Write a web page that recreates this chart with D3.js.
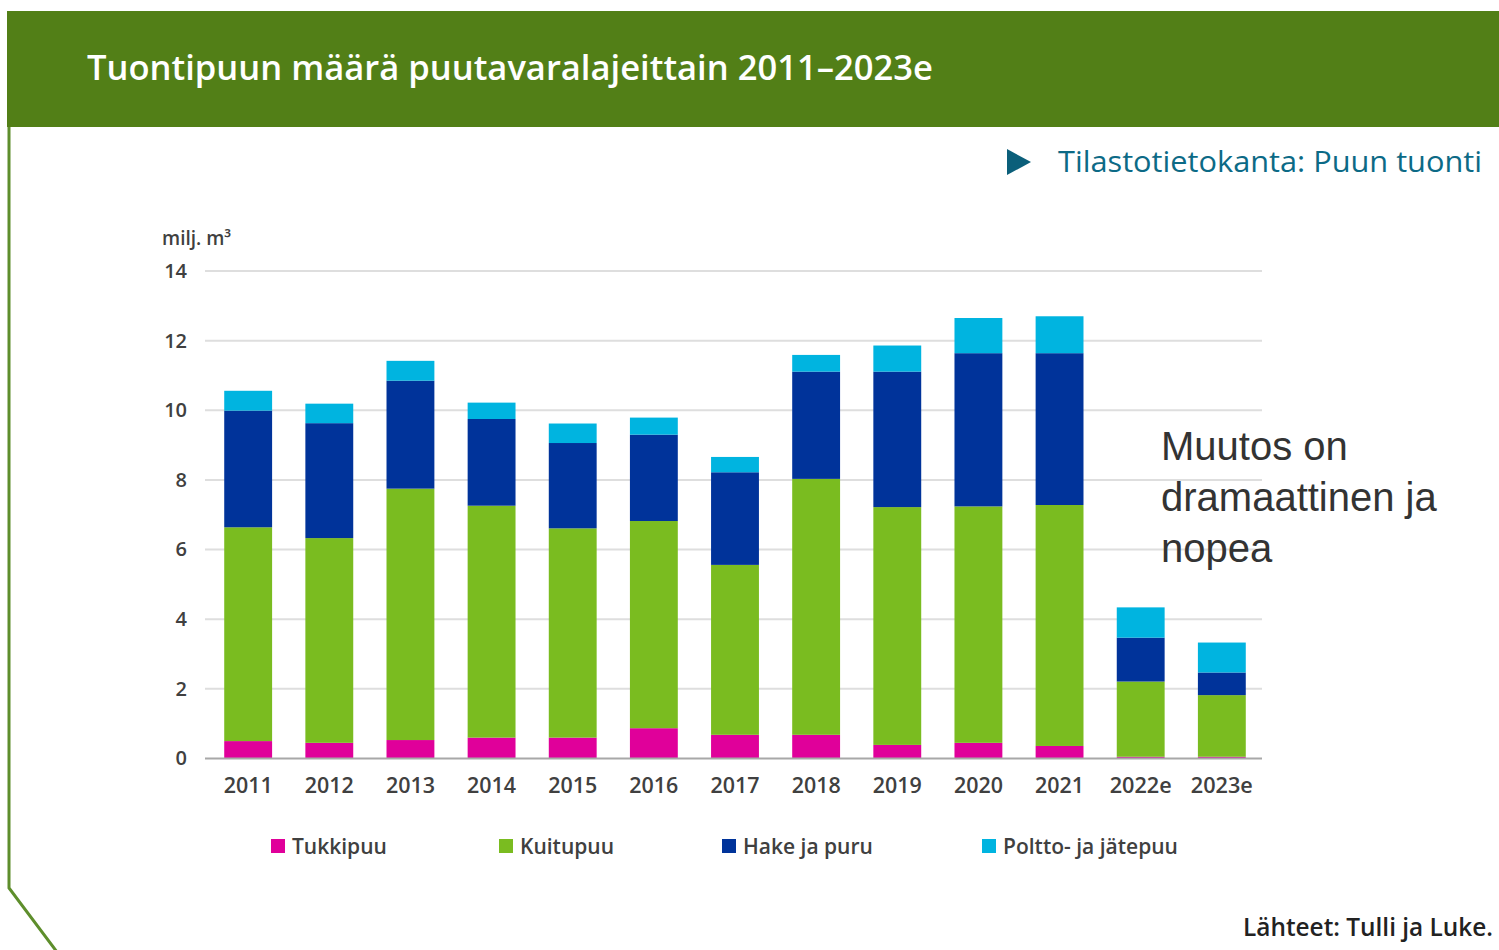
<!DOCTYPE html>
<html>
<head lang="fi">
    <meta charset="UTF-8">
    <title>Tuontipuu</title>
    <script type="text/javascript" src="https://d3js.org/d3.v7.min.js"></script>
    <style>
        body { margin: 0; background: #fff; }
        text { font-family: "Open Sans", "DejaVu Sans", sans-serif; }
    </style>
</head>
<body>
<div id="chart"></div>
<script>

    // data, milj. m3
    var years    = ["2011","2012","2013","2014","2015","2016","2017","2018","2019","2020","2021","2022e","2023e"];
    var tukkipuu = [0.50, 0.45, 0.53, 0.60, 0.60, 0.87, 0.68, 0.68, 0.39, 0.45, 0.36, 0.05, 0.05];
    var kuitupuu = [6.14, 5.88, 7.22, 6.66, 6.01, 5.95, 4.88, 7.35, 6.83, 6.79, 6.92, 2.16, 1.77];
    var hake     = [3.35, 3.30, 3.10, 2.49, 2.45, 2.48, 2.66, 3.08, 3.89, 4.40, 4.36, 1.26, 0.65];
    var poltto   = [0.57, 0.56, 0.57, 0.47, 0.56, 0.49, 0.44, 0.48, 0.75, 1.01, 1.06, 0.87, 0.86];
    var seriesNames = ["Tukkipuu", "Kuitupuu", "Hake ja puru", "Poltto- ja jätepuu"];
    var yTicks   = [0, 2, 4, 6, 8, 10, 12, 14];

    var colors = ["#e0009a", "#7abc20", "#00339a", "#00b4e0"];

    var W = 1499, H = 950;

    var svg = d3.select("#chart").append("svg")
            .attr("width", W)
            .attr("height", H);

    // header band
    svg.append("rect")
            .attr("x", 7).attr("y", 11)
            .attr("width", W - 7).attr("height", 116)
            .style("fill", "#527f17");

    svg.append("text")
            .attr("x", 87).attr("y", 80)
            .attr("textLength", 846)
            .attr("lengthAdjust", "spacingAndGlyphs")
            .style("font-size", "35px")
            .style("font-weight", "600")
            .style("fill", "#ffffff")
            .text("Tuontipuun määrä puutavaralajeittain 2011–2023e");

    // left border with cut corner
    svg.append("path")
            .attr("d", "M9,127 L9,888 L57,952")
            .style("fill", "none")
            .style("stroke", "#5e8e2c")
            .style("stroke-width", 3);

    // link text
    svg.append("path")
            .attr("d", "M1007,149 L1031,162 L1007,175 Z")
            .style("fill", "#0b5f7a");
    svg.append("text")
            .attr("x", 1058).attr("y", 172)
            .attr("textLength", 424)
            .attr("lengthAdjust", "spacingAndGlyphs")
            .style("font-size", "30px")
            .style("fill", "#0c6a86")
            .text("Tilastotietokanta: Puun tuonti");

    // scales
    var x = d3.scaleBand()
            .domain(years)
            .range([208, 1262])
            .paddingInner(0.41)
            .paddingOuter(0.2);

    var y = d3.scaleLinear()
            .domain([0, 14])
            .range([758.5, 271]);

    // gridlines
    svg.append("g").selectAll("line")
            .data(yTicks.filter(function (d) { return d > 0; }))
            .enter().append("line")
            .attr("x1", 205).attr("x2", 1262)
            .attr("y1", function (d) { return y(d); })
            .attr("y2", function (d) { return y(d); })
            .style("stroke", "#dedede")
            .style("stroke-width", 2);

    // y axis labels
    var yAxis = svg.append("g")
            .attr("transform", "translate(187,0)")
            .call(d3.axisLeft(y).tickValues(yTicks).tickSize(0).tickPadding(0));
    yAxis.select(".domain").remove();
    yAxis.selectAll("text")
            .style("font-family", "\"Open Sans\", sans-serif")
            .style("font-size", "20px")
            .style("font-weight", "600")
            .style("fill", "#404040");

    svg.append("text")
            .attr("x", 162).attr("y", 245)
            .style("font-size", "19px")
            .style("font-weight", "600")
            .style("fill", "#404040")
            .text("milj. m³");

    // stacked bars
    var table = years.map(function (yr, i) {
        return { year: yr, s0: tukkipuu[i], s1: kuitupuu[i], s2: hake[i], s3: poltto[i] };
    });
    var stack = d3.stack().keys(["s0", "s1", "s2", "s3"])(table);

    svg.append("g").selectAll("g")
            .data(stack).enter().append("g")
            .style("fill", function (d, i) { return colors[i]; })
            .selectAll("rect")
            .data(function (d) { return d; }).enter().append("rect")
            .attr("x", function (d) { return x(d.data.year); })
            .attr("y", function (d) { return y(d[1]); })
            .attr("width", x.bandwidth())
            .attr("height", function (d) { return y(d[0]) - y(d[1]); });

    // baseline
    svg.append("line")
            .attr("x1", 205).attr("x2", 1262)
            .attr("y1", y(0)).attr("y2", y(0))
            .style("stroke", "#a8a8a8")
            .style("stroke-width", 2);

    // x axis labels
    var xAxis = svg.append("g")
            .attr("transform", "translate(0," + y(0) + ")")
            .call(d3.axisBottom(x).tickSize(0).tickPadding(20));
    xAxis.select(".domain").remove();
    xAxis.selectAll("text")
            .style("font-family", "\"Open Sans\", sans-serif")
            .style("font-size", "21px")
            .style("font-weight", "600")
            .style("fill", "#404040")
            .attr("textLength", function (d) { return d.length > 4 ? 62 : 49; })
            .attr("lengthAdjust", "spacingAndGlyphs");

    // legend
    var legendX = [271, 499, 722, 982];
    var legend = svg.append("g").selectAll("g")
            .data(seriesNames).enter().append("g")
            .attr("transform", function (d, i) { return "translate(" + legendX[i] + ",839)"; });
    legend.append("rect")
            .attr("width", 14).attr("height", 14)
            .style("fill", function (d, i) { return colors[i]; });
    legend.append("text")
            .attr("x", 21).attr("y", 15)
            .style("font-size", "21px")
            .style("font-weight", "600")
            .style("fill", "#404040")
            .text(function (d) { return d; });

    // annotation
    var note = ["Muutos on", "dramaattinen ja", "nopea"];
    svg.append("g").selectAll("text")
            .data(note).enter().append("text")
            .attr("x", 1161)
            .attr("y", function (d, i) { return 460 + i * 51; })
            .style("font-family", "\"Liberation Sans\", Arial, sans-serif")
            .style("font-size", "40px")
            .style("fill", "#333333")
            .text(function (d) { return d; });

    // source
    svg.append("text")
            .attr("x", 1493).attr("y", 936)
            .attr("text-anchor", "end")
            .attr("textLength", 250)
            .attr("lengthAdjust", "spacingAndGlyphs")
            .style("font-size", "25px")
            .style("font-weight", "600")
            .style("fill", "#222222")
            .text("Lähteet: Tulli ja Luke.");

</script>
</body>
</html>
